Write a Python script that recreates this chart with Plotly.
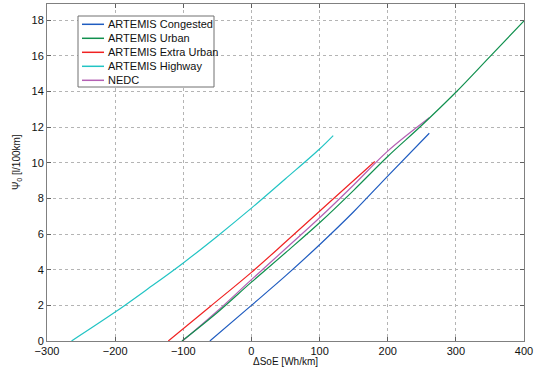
import plotly.graph_objects as go

# ---- data ----
names = ["ARTEMIS Congested", "ARTEMIS Urban", "ARTEMIS Extra Urban", "ARTEMIS Highway", "NEDC"]
colors = ["#1f5cc0", "#10904e", "#f02222", "#22c4c4", "#b460b4"]

congested_x = [-61, 0, 50, 100, 150, 200, 261]
congested_y = [0, 2.0, 3.65, 5.4, 7.25, 9.25, 11.65]

urban_x = [-102, -50, 0, 50, 100, 150, 200, 250, 300, 350, 400]
urban_y = [0, 1.6, 3.3, 4.95, 6.63, 8.45, 10.35, 12.1, 13.95, 15.95, 17.95]

extra_x = [-122, -60, 0, 50, 100, 150, 181]
extra_y = [0, 1.95, 3.85, 5.55, 7.28, 9.0, 10.07]

highway_x = [-264, -200, -150, -100, -50, 0, 50, 100, 120]
highway_y = [0, 1.62, 2.98, 4.38, 5.88, 7.45, 9.1, 10.77, 11.52]

nedc_x = [-101, -50, 0, 50, 100, 150, 200, 261]
nedc_y = [0, 1.68, 3.44, 5.17, 6.91, 8.75, 10.65, 12.52]

series_x = [congested_x, urban_x, extra_x, highway_x, nedc_x]
series_y = [congested_y, urban_y, extra_y, highway_y, nedc_y]

x_ticks = [-300, -200, -100, 0, 100, 200, 300, 400]
y_ticks = [0, 2, 4, 6, 8, 10, 12, 14, 16, 18]

FONT = "Liberation Sans, Arial, sans-serif"

fig = go.Figure()
for i in [3, 2, 0, 4, 1]:
    fig.add_trace(go.Scatter(x=series_x[i], y=series_y[i], mode="lines", name=names[i],
                             line=dict(color=colors[i], width=1.2, shape="spline"),
                             showlegend=False))

W, H = 542, 368
ml, mr, mt, mb = 47, 18, 4, 27
pw, ph = W - ml - mr, H - mt - mb


def px(xp):
    return (xp - ml) / pw


def py(yp):
    return (H - mb - yp) / ph


shapes = []
annotations = []
# legend box (layout element)
shapes.append(dict(type="rect", xref="paper", yref="paper",
                   x0=px(78), x1=px(214), y0=py(87), y1=py(16),
                   line=dict(color="#707070", width=1), fillcolor="white", layer="above"))
for k in range(len(names)):
    yc = py(24.3 + 14 * k)
    shapes.append(dict(type="line", xref="paper", yref="paper",
                       x0=px(82), x1=px(104), y0=yc, y1=yc,
                       line=dict(color=colors[k], width=1.5), layer="above"))
    annotations.append(dict(xref="paper", yref="paper", x=px(106), y=yc,
                            text=names[k], showarrow=False, xanchor="left", yanchor="middle",
                            font=dict(family=FONT, size=11, color="#111")))

# axis titles
annotations.append(dict(xref="paper", yref="paper", x=0.5, y=py(361), text="ΔSoE [Wh/km]",
                        showarrow=False, xanchor="center", yanchor="middle",
                        font=dict(family=FONT, size=10, color="#111")))
annotations.append(dict(xref="paper", yref="paper", x=px(17), y=py(162),
                        text="Ψ<sub>0</sub> [l/100km]", textangle=-90,
                        showarrow=False, xanchor="center", yanchor="middle",
                        font=dict(family=FONT, size=10, color="#111")))

axis_common = dict(showgrid=True, gridcolor="#b4b4b4", griddash="dot", gridwidth=1,
                   zeroline=False, showline=True, linecolor="#808080", linewidth=1,
                   mirror="ticks", ticks="inside", ticklen=4, tickcolor="#606060",
                   tickfont=dict(family=FONT, size=11, color="#111"))

fig.update_layout(
    width=W, height=H,
    margin=dict(l=ml, r=mr, t=mt, b=mb, pad=0),
    paper_bgcolor="white", plot_bgcolor="white",
    xaxis=dict(range=[-300, 400], tickvals=x_ticks, **axis_common),
    yaxis=dict(range=[0, 18.9], tickvals=y_ticks, **axis_common),
    shapes=shapes, annotations=annotations, showlegend=False,
)

fig.write_html("out.html")
